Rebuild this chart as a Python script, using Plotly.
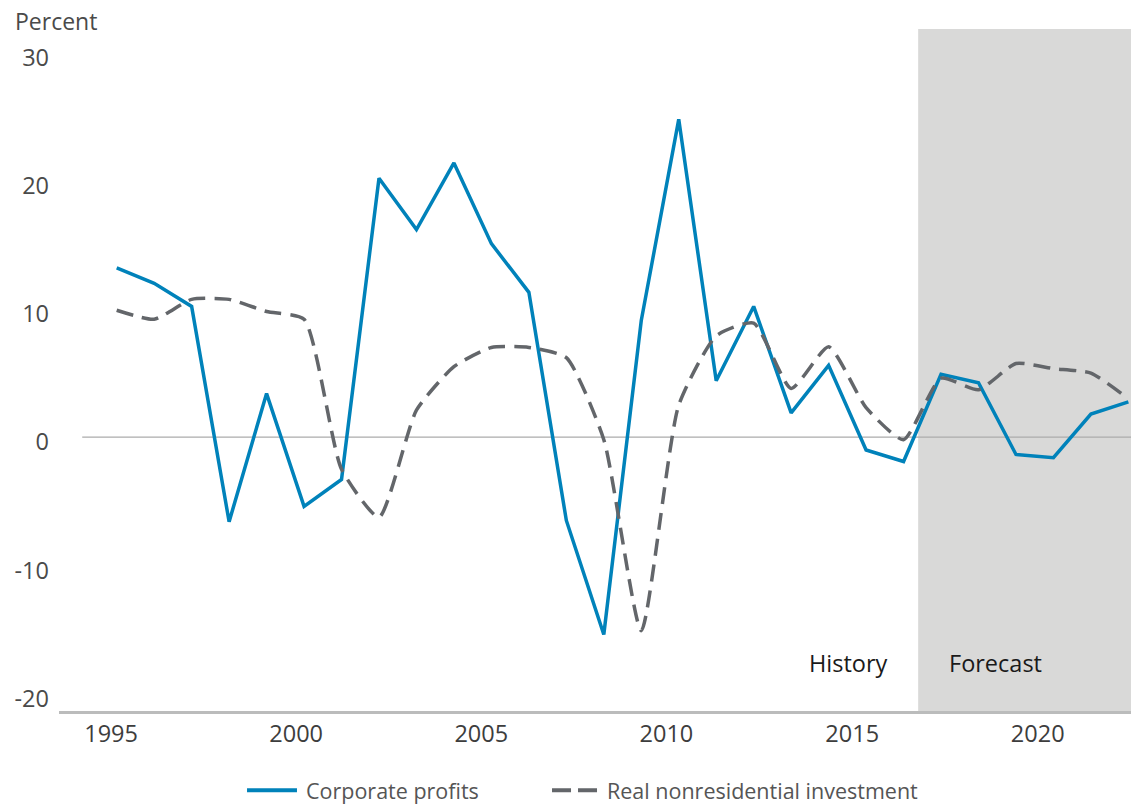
import plotly.graph_objects as go

years = list(range(1995, 2023))
corporate_profits = [13.2, 12.0, 10.2, -6.6, 3.4, -5.4, -3.3, 20.2, 16.2, 21.4, 15.1, 11.3,
                     -6.5, -15.4, 9.1, 24.8, 4.4, 10.2, 1.9, 5.6, -1.0, -1.9,
                     4.9, 4.25, -1.35, -1.6, 1.8, 2.75]
real_nonres_investment = [9.9, 9.2, 10.75, 10.75, 9.8, 9.2, -2.5, -6.25, 2.1, 5.5, 7.0, 7.0,
                          6.2, -0.2, -15.1, 2.5, 7.9, 8.9, 3.8, 7.05, 2.3, -0.2,
                          4.6, 3.7, 5.75, 5.35, 5.0, 3.0]
tick_labels = ["1995", "2000", "2005", "2010", "2015", "2020"]
tick_positions = [1994.85, 1999.79, 2004.73, 2009.67, 2014.63, 2019.58]
y_ticks = [-20, -10, 0, 10, 20, 30]
y_tick_labels = ["-20", "-10", "0", "10", "20", "30"]
series_names = ["Corporate profits", "Real nonresidential investment"]

FONT = "Open Sans"
BLUE = "#0082BA"
GRAY = "#63666A"
DASH = "17px,9px"

fig = go.Figure()

fig.add_trace(go.Scatter(
    x=years, y=corporate_profits, mode="lines", name=series_names[0],
    line=dict(color=BLUE, width=3.5), showlegend=False,
))
fig.add_trace(go.Scatter(
    x=years, y=real_nonres_investment, mode="lines", name=series_names[1],
    line=dict(color=GRAY, width=3.5, dash=DASH, shape="spline", smoothing=0.55),
    showlegend=False,
))

x_min, x_max = 1993.46, 2022.07
forecast_start = 2016.39

fig.add_shape(type="rect", xref="x", yref="paper", x0=forecast_start, x1=x_max, y0=0, y1=1,
              fillcolor="#D9D9D8", line=dict(width=0), layer="below")
fig.add_shape(type="line", xref="x", yref="y", x0=1994.08, x1=x_max, y0=0, y1=0,
              line=dict(color="#ABABAB", width=1.2), layer="below")

# Legend (drawn below the plot)
leg_y = -0.1163
fig.add_shape(type="line", xref="paper", yref="paper", x0=0.1754, x1=0.2220, y0=leg_y, y1=leg_y,
              line=dict(color=BLUE, width=4))
fig.add_shape(type="line", xref="paper", yref="paper", x0=0.4599, x1=0.5028, y0=leg_y, y1=leg_y,
              line=dict(color=GRAY, width=4, dash="19px,7px"))
fig.add_annotation(text=series_names[0], xref="paper", yref="paper", x=0.2285, y=leg_y,
                   xanchor="left", yanchor="middle", showarrow=False,
                   font=dict(family=FONT, size=21.5, color="#555555"))
fig.add_annotation(text=series_names[1], xref="paper", yref="paper", x=0.5093, y=leg_y,
                   xanchor="left", yanchor="middle", showarrow=False,
                   font=dict(family=FONT, size=21.5, color="#555555"))

fig.add_annotation(text="Percent", xref="paper", yref="paper", x=-0.0433, y=1.0117,
                   xanchor="left", yanchor="middle", showarrow=False,
                   font=dict(family=FONT, size=23, color="#4A4A4A"))
fig.add_annotation(text="History", xref="x", yref="y", x=2015.64, y=-17.6,
                   xanchor="right", yanchor="middle", showarrow=False,
                   font=dict(family=FONT, size=23.5, color="#1A1A1A"))
fig.add_annotation(text="Forecast", xref="x", yref="y", x=2017.15, y=-17.6,
                   xanchor="left", yanchor="middle", showarrow=False,
                   font=dict(family=FONT, size=23.5, color="#1A1A1A"))

fig.update_layout(
    width=1131, height=806,
    margin=dict(l=59, r=0, t=29, b=95, autoexpand=False),
    paper_bgcolor="white", plot_bgcolor="white",
    font=dict(family=FONT, size=23, color="#4A4A4A"),
    showlegend=False,
    xaxis=dict(range=[x_min, x_max], tickvals=tick_positions, ticktext=tick_labels,
               showgrid=False, zeroline=False, showline=True, linecolor="#BBBCBC", linewidth=2.5,
               ticks="", tickfont=dict(family=FONT, size=23.5, color="#3D3D3D")),
    yaxis=dict(range=[-21.37, 31.85], tickvals=y_ticks, ticktext=y_tick_labels,
               showgrid=False, zeroline=False,
               showline=False, ticks="", ticklabelstandoff=9, ticklabelshift=5,
               tickfont=dict(family=FONT, size=23.5, color="#4A4A4A")),
)

fig.write_html("out.html")
